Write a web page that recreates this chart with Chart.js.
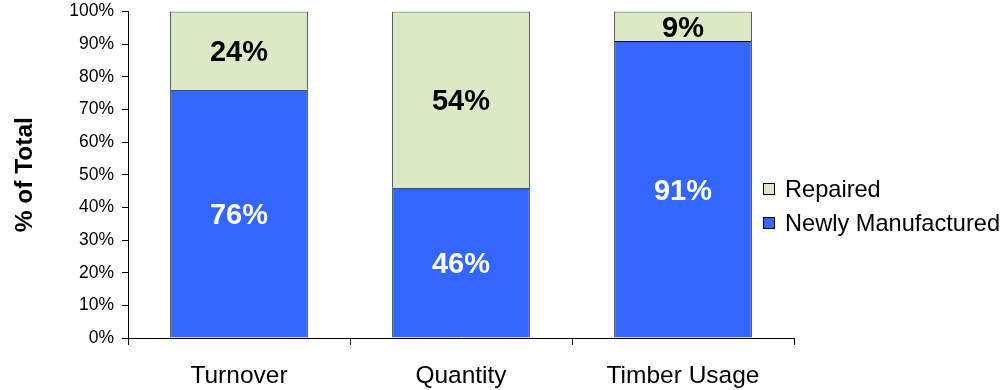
<!DOCTYPE html>
<html>
<head>
<meta charset="utf-8">
<script src="https://cdn.jsdelivr.net/npm/chart.js@4.4.1/dist/chart.umd.min.js"></script>
<style>
  html, body { margin: 0; padding: 0; background: #fff; }
  #wrap { width: 1006px; height: 390px; position: relative; }
</style>
</head>
<body>
<div id="wrap"><canvas id="c" width="1006" height="390"></canvas></div>
<script>
const categories = ['Turnover', 'Quantity', 'Timber Usage'];
const newlyManufactured = [76, 46, 91];
const repaired = [24, 54, 9];
const yTicks = [0, 10, 20, 30, 40, 50, 60, 70, 80, 90, 100];

const FONT = "'Liberation Sans', Arial, sans-serif";
const BLUE = '#3366FF';
const GREEN = '#D9EAC5';

// Percent labels centred inside each stacked segment
const segmentLabels = {
  id: 'segmentLabels',
  afterDatasetsDraw(chart) {
    const ctx = chart.ctx;
    ctx.save();
    ctx.font = 'bold 29px ' + FONT;
    ctx.textAlign = 'center';
    ctx.textBaseline = 'middle';
    chart.data.datasets.forEach((ds, i) => {
      const meta = chart.getDatasetMeta(i);
      meta.data.forEach((bar, j) => {
        const yc = (bar.y + bar.base) / 2;
        ctx.fillStyle = ds.labelColor;
        ctx.fillText(ds.data[j] + '%', bar.x, yc + 2.5);
      });
    });
    ctx.restore();
  }
};

// Legend on the right, top series listed first
const sideLegend = {
  id: 'sideLegend',
  afterDraw(chart) {
    const ctx = chart.ctx;
    const items = chart.data.datasets.slice().reverse();
    const x0 = 763, y0 = 189, gap = 34, box = 12;
    ctx.save();
    ctx.font = '23.6px ' + FONT;
    ctx.textBaseline = 'middle';
    ctx.textAlign = 'left';
    items.forEach((ds, k) => {
      const y = y0 + k * gap;
      ctx.fillStyle = ds.backgroundColor;
      ctx.fillRect(x0, y - box / 2, box, box);
      ctx.strokeStyle = '#000';
      ctx.lineWidth = 1;
      ctx.strokeRect(x0 + 0.5, y - box / 2 + 0.5, box - 1, box - 1);
      ctx.fillStyle = '#000';
      ctx.fillText(ds.label, x0 + 22, y + 1);
    });
    ctx.restore();
  }
};

new Chart(document.getElementById('c'), {
  type: 'bar',
  data: {
    labels: categories,
    datasets: [
      {
        label: 'Newly Manufactured',
        data: newlyManufactured,
        backgroundColor: BLUE,
        borderColor: '#111',
        borderWidth: 1,
        labelColor: '#ffffff'
      },
      {
        label: 'Repaired',
        data: repaired,
        backgroundColor: GREEN,
        borderColor: '#111',
        borderWidth: 1,
        labelColor: '#000000'
      }
    ]
  },
  options: {
    responsive: false,
    animation: false,
    layout: { padding: { top: 11.5, right: 212, bottom: 0, left: 0 } },
    plugins: {
      legend: { display: false },
      tooltip: { enabled: false }
    },
    datasets: {
      bar: { categoryPercentage: 1.0, barPercentage: 0.62 }
    },
    scales: {
      x: {
        stacked: true,
        grid: { drawOnChartArea: false, color: '#000', tickLength: 7, offset: true },
        border: { color: '#000', width: 1 },
        ticks: { color: '#000', font: { family: FONT, size: 24.5 }, padding: 17, maxRotation: 0 },
        afterFit(scale) {
          scale.height = 52;
          scale.paddingLeft = 0;
          scale.paddingRight = 0;
        }
      },
      y: {
        stacked: true,
        min: 0,
        max: 100,
        afterBuildTicks(scale) { scale.ticks = yTicks.map(v => ({ value: v })); },
        grid: { drawOnChartArea: false, color: '#000', tickLength: 6 },
        border: { color: '#000', width: 1 },
        ticks: {
          color: '#000',
          font: { family: FONT, size: 17.5 },
          padding: 8,
          callback: v => v + '%'
        },
        title: {
          display: true,
          text: '% of Total',
          color: '#000',
          font: { family: FONT, size: 24.5, weight: 'bold' },
          padding: { top: 11, bottom: 0 }
        },
        afterFit(scale) {
          scale.width = 128;
          scale.paddingTop = 0;
          scale.paddingBottom = 0;
        }
      }
    }
  },
  plugins: [segmentLabels, sideLegend]
});
</script>
</body>
</html>
